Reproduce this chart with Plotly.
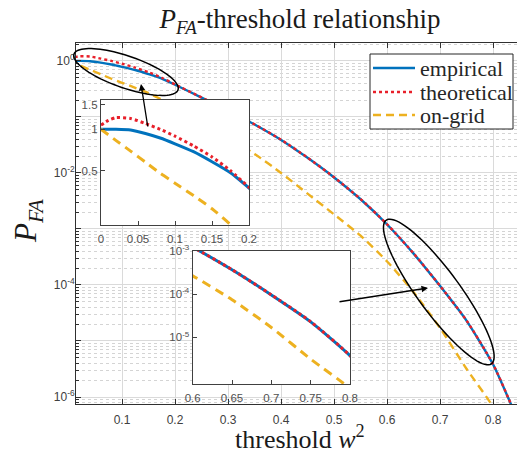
import numpy as np
import plotly.graph_objects as go

# ---------------- data ----------------
threshold = [0, 0.01, 0.02, 0.04, 0.06, 0.08, 0.10, 0.125, 0.15, 0.175, 0.20,
             0.25, 0.30, 0.35, 0.40, 0.45, 0.50, 0.55, 0.60, 0.65, 0.70, 0.75,
             0.80, 0.83, 0.85]
empirical_log10 = [0.0, 0.0, 0.0, -0.005, -0.03, -0.063, -0.105, -0.162, -0.235, -0.315, -0.425,
                   -0.655, -0.885, -1.135, -1.41, -1.73, -2.08, -2.47, -2.92, -3.44, -4.02, -4.64,
                   -5.42, -6.05, -6.5]
theoretical_log10 = [0.03, 0.065, 0.084, 0.078, 0.042, 0.0, -0.05, -0.12, -0.20, -0.30, -0.42,
                     -0.652, -0.882, -1.132, -1.407, -1.727, -2.077, -2.467, -2.917, -3.437, -4.017, -4.637,
                     -5.417, -6.047, -6.5]
ongrid_log10 = [0.0, -0.04, -0.08, -0.158, -0.238, -0.318, -0.39, -0.48, -0.575, -0.69, -0.82,
                -1.09, -1.37, -1.66, -2.0, -2.37, -2.74, -3.12, -3.58, -4.13, -4.77, -5.5,
                -6.18, -6.8, -7.2]

empirical = [10 ** v for v in empirical_log10]
theoretical = [10 ** v for v in theoretical_log10]
ongrid = [10 ** v for v in ongrid_log10]

series_names = ["empirical", "theoretical", "on-grid"]
main_xticks = [0.1, 0.2, 0.3, 0.4, 0.5, 0.6, 0.7, 0.8]
main_yticks_exp = [0, -1, -2, -3, -4, -5, -6]
inset1_xticks = [0, 0.05, 0.1, 0.15, 0.2]
inset1_yticks = [0.5, 1, 1.5]
inset2_xticks = [0.6, 0.65, 0.7, 0.75, 0.8]
inset2_yticks_exp = [-3, -4, -5]

# ---------------- styling ----------------
W, H = 517, 455
L, R, T, B = 76, 0, 43, 51
PW, PH = W - L - R, H - T - B

def paper(px, py):
    return (px - L) / PW, (H - B - py) / PH

BLUE = "#0072BD"
RED = "#E8202A"
ORANGE = "#EDB120"
AX = "#303030"
TICKFONT = dict(family="Liberation Sans, Arial, sans-serif", size=12, color="#404040")
SERIF = "Liberation Serif, Times New Roman, serif"

fig = go.Figure()

styles = [dict(color=BLUE, width=2.4, dash="solid"),
          dict(color=RED, width=2.4, dash="dot"),
          dict(color=ORANGE, width=2.4, dash="8px,5px")]
series = list(zip(series_names, [empirical, theoretical, ongrid], styles))

for name, ys, ln in series:
    fig.add_trace(go.Scatter(x=threshold, y=ys, mode="lines", name=name,
                             showlegend=False,
                             line=dict(shape="spline", smoothing=0.6, **ln),
                             xaxis="x", yaxis="y"))
for ax_id in ("2", "3"):
    for name, ys, ln in series:
        ln2 = dict(ln)
        ln2["width"] = 3.0
        if ln2["dash"] == "8px,5px":
            ln2["dash"] = "9px,6px"
        fig.add_trace(go.Scatter(x=threshold, y=ys, mode="lines", name=name,
                                 showlegend=False,
                                 line=dict(shape="spline", smoothing=0.6, **ln2),
                                 xaxis="x" + ax_id, yaxis="y" + ax_id))

minor_vals = [k * 10.0 ** e for e in range(-7, 1) for k in range(2, 10)]

# inset domains (pixels -> paper)
i1x0, i1y0 = paper(101, 225)
i1x1, i1y1 = paper(249, 100)
i2x0, i2y0 = paper(192.7, 384.3)
i2x1, i2y1 = paper(350, 250.7)

inset_common = dict(showline=True, linecolor="#404040", linewidth=1.2, mirror=True,
                    ticks="inside", ticklen=4, tickcolor="#404040", showgrid=False,
                    zeroline=False, tickfont=dict(family=TICKFONT["family"], size=11.5,
                                                  color="#505050"))

fig.update_layout(
    width=W, height=H,
    margin=dict(l=L, r=R, t=T, b=B, autoexpand=False),
    paper_bgcolor="white", plot_bgcolor="white",
    showlegend=False,
    xaxis=dict(domain=[0, 1], range=[0.0132, 0.845], tickvals=main_xticks,
               ticktext=[str(v) for v in main_xticks],
               ticks="inside", ticklen=5, tickcolor=AX, showline=True, linecolor=AX,
               linewidth=1, mirror="ticks", showgrid=True, gridcolor="#dadada",
               zeroline=False, tickfont=TICKFONT, ticklabelstandoff=5),
    yaxis=dict(domain=[0, 1], type="log", range=[-6.125, 0.32],
               tickvals=[10.0 ** e for e in main_yticks_exp],
               ticktext=[("10<sup>%d</sup>" % e) if e % 2 == 0 else "" for e in main_yticks_exp],
               ticks="inside", ticklen=5, tickcolor=AX, showline=True, linecolor=AX,
               linewidth=1, mirror=False, showgrid=True, gridcolor="#dadada",
               zeroline=False, tickfont=TICKFONT, ticklabelstandoff=-2,
               minor=dict(tickmode="array", tickvals=minor_vals, ticks="inside",
                          ticklen=3, tickcolor=AX, showgrid=True, gridcolor="#d4d4d4",
                          griddash="dot", gridwidth=1)),
    xaxis2=dict(domain=[i1x0, i1x1], anchor="y2", range=[0, 0.2],
                tickvals=inset1_xticks, ticktext=[str(v) for v in inset1_xticks],
                ticklabelstandoff=3, **inset_common),
    yaxis2=dict(domain=[i1y0, i1y1], anchor="x2", type="log", range=[-0.693, 0.212],
                tickvals=inset1_yticks, ticktext=[str(v) for v in inset1_yticks],
                **inset_common),
    xaxis3=dict(domain=[i2x0, i2x1], anchor="y3", range=[0.6, 0.8],
                tickvals=inset2_xticks, ticktext=[str(v) for v in inset2_xticks],
                ticklabelstandoff=3, **inset_common),
    yaxis3=dict(domain=[i2y0, i2y1], anchor="x3", type="log", range=[-6.08, -3.0],
                tickvals=[10.0 ** e for e in inset2_yticks_exp],
                ticktext=["10<sup>%d</sup>" % e for e in inset2_yticks_exp],
                **inset_common),
    title=dict(text="<i>P</i><sub><i>FA</i></sub>-threshold relationship",
               x=300 / W, xref="container", xanchor="center",
               y=1 - 19 / H, yref="container", yanchor="middle",
               font=dict(family=SERIF, size=27, color="#1a1a1a")),
)

# axis titles
yt = paper(6, 221)
fig.add_annotation(text="<i>P</i><sub><i>FA</i></sub>", x=yt[0], y=yt[1], xref="paper",
                   yref="paper", showarrow=False, textangle=-90,
                   font=dict(family=SERIF, size=31, color="#1a1a1a"))
xt = paper(300, 456)
fig.add_annotation(text="threshold <i>w</i><sup>2</sup>", x=xt[0], y=xt[1], xref="paper",
                   yref="paper", showarrow=False,
                   font=dict(family=SERIF, size=26, color="#1a1a1a"))

# legend box (drawn as decoration in the upper-right corner)
lx0, ly0 = paper(370, 129)
lx1, ly1 = paper(513, 54)
fig.add_shape(type="rect", x0=lx0, y0=ly0, x1=lx1, y1=ly1, xref="paper", yref="paper",
              fillcolor="white", line=dict(color="#262626", width=1), layer="above")
for (name, ys, ln), row_y in zip(series, [68, 92, 115]):
    sx0, sy = paper(373, row_y)
    sx1, _ = paper(415, row_y)
    fig.add_shape(type="line", x0=sx0, x1=sx1, y0=sy, y1=sy, xref="paper", yref="paper",
                  line=dict(color=ln["color"], width=ln["width"], dash=ln["dash"]),
                  layer="above")
    tx, ty = paper(418, row_y)
    fig.add_annotation(text=name, x=tx, y=ty, xref="paper", yref="paper",
                       xanchor="left", yanchor="middle", showarrow=False,
                       font=dict(family=SERIF, size=22, color="#262626"))

# ellipses (decorations)
def ellipse_path(cx, cy, a, b, ang_deg, n=90):
    th = np.deg2rad(ang_deg)
    t = np.linspace(0, 2 * np.pi, n)
    px = cx + a * np.cos(t) * np.cos(th) - b * np.sin(t) * np.sin(th)
    py = cy + a * np.cos(t) * np.sin(th) + b * np.sin(t) * np.cos(th)
    pts = [paper(u, v) for u, v in zip(px, py)]
    return "M " + " L ".join("%.5f,%.5f" % p for p in pts) + " Z"

for (cx, cy, a, b, ang) in [(126, 72, 55, 16, 19), (438.8, 292, 89, 21, 53.7)]:
    fig.add_shape(type="path", path=ellipse_path(cx, cy, a, b, ang), xref="paper",
                  yref="paper", line=dict(color="black", width=1.5), layer="above")

# arrows
for (hx, hy, tx, ty) in [(141, 84, 148, 128), (428, 288, 338, 302)]:
    hp = paper(hx, hy)
    fig.add_annotation(x=hp[0], y=hp[1], xref="paper", yref="paper", text="",
                       showarrow=True, ax=tx - hx, ay=ty - hy, arrowhead=2,
                       arrowsize=1, arrowwidth=1.3, arrowcolor="black", standoff=0)

fig.write_html("out.html", config={"displayModeBar": False},
               post_script="document.body.style.margin='0px';")
